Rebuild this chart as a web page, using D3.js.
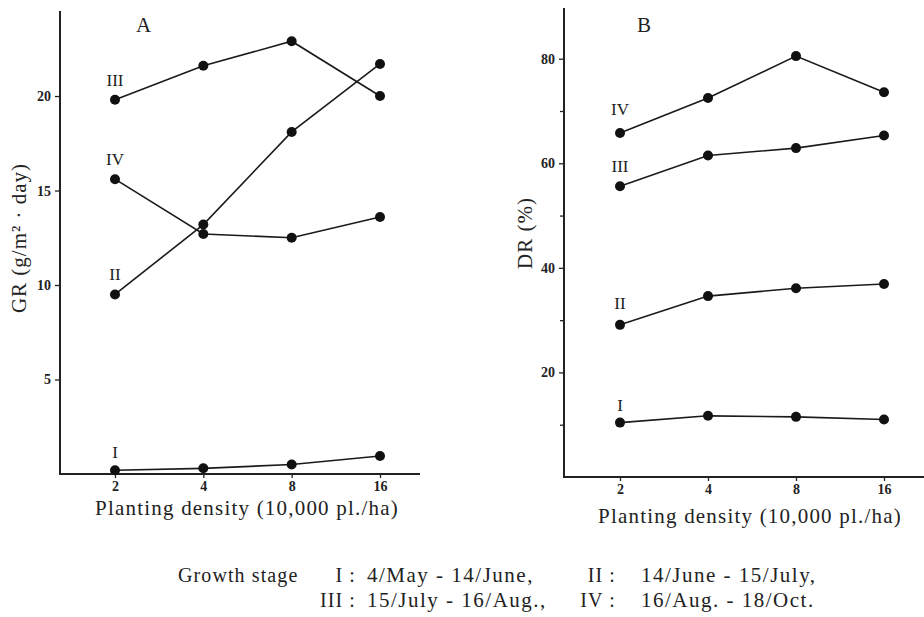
<!DOCTYPE html>
<html>
<head>
<meta charset="utf-8">
<script src="https://cdn.jsdelivr.net/npm/d3@7"></script>
<style>
  body { margin: 0; background: #fff; }
  svg { display: block; font-family: "Liberation Serif", "DejaVu Serif", serif; }
</style>
</head>
<body>
<svg id="chart" width="924" height="617"></svg>
<script>
// planting density (10,000 pl./ha)
var densities = [2, 4, 8, 16];
var stages = ['I', 'II', 'III', 'IV'];

// A: GR (g/m2 . day)
var grI = [0.2, 0.3, 0.5, 0.95];
var grII = [9.5, 13.2, 18.1, 21.7];
var grIII = [19.8, 21.6, 22.9, 20.0];
var grIV = [15.6, 12.7, 12.5, 13.6];
var grTicks = [5, 10, 15, 20];

// B: DR (%)
var drI = [10.4, 11.7, 11.5, 11.0];
var drII = [29.1, 34.6, 36.1, 36.9];
var drIII = [55.6, 61.5, 62.9, 65.3];
var drIV = [65.8, 72.5, 80.5, 73.6];
var drTicks = [20, 40, 60, 80];
var drMinor = [10, 30, 50, 70];

var legendLines = [
    [['I :', '4/May - 14/June,'], ['II :', '14/June - 15/July,']],
    [['III :', '15/July - 16/Aug.,'], ['IV :', '16/Aug. - 18/Oct.']]
];

var svg = d3.select('#chart');

function panel(opt) {
    var g = svg.append('g');
    var x = d3.scaleLog().base(2).domain([2, 16]).range(opt.xRange);
    var y = d3.scaleLinear().domain([0, opt.yMax]).range(opt.yRange);

    // y axis
    g.append('g')
        .attr('transform', 'translate(' + opt.axisX + ',0)')
        .call(d3.axisLeft(y).tickValues(opt.yTicks).tickSize(5).tickPadding(4).tickFormat(d3.format('d')))
        .select('.domain').remove();
    if (opt.yMinor) {
        g.append('g')
            .attr('transform', 'translate(' + opt.axisX + ',0)')
            .call(d3.axisLeft(y).tickValues(opt.yMinor).tickSize(4).tickFormat(''))
            .select('.domain').remove();
    }
    // x axis
    g.append('g')
        .attr('transform', 'translate(0,' + opt.yRange[0] + ')')
        .call(d3.axisBottom(x).tickValues(densities).tickSize(4).tickPadding(3).tickFormat(d3.format('d')))
        .select('.domain').remove();

    g.selectAll('.tick text')
        .style('font-family', '"Liberation Serif", serif')
        .style('font-size', '14px')
        .style('font-weight', 'bold')
        .attr('fill', '#222');
    g.selectAll('.tick line').attr('stroke', '#222').attr('stroke-width', 1.3);

    // axis lines
    g.append('line')
        .attr('x1', opt.axisX).attr('x2', opt.axisX)
        .attr('y1', opt.yRange[1]).attr('y2', opt.yRange[0] + 1)
        .attr('stroke', '#222').attr('stroke-width', 2);
    g.append('line')
        .attr('x1', opt.axisX - 1).attr('x2', opt.axisEnd)
        .attr('y1', opt.yRange[0]).attr('y2', opt.yRange[0])
        .attr('stroke', '#222').attr('stroke-width', 2);

    var line = d3.line()
        .x(function (d, i) { return x(densities[i]); })
        .y(function (d) { return y(d); });

    opt.series.forEach(function (s, k) {
        g.append('path')
            .attr('d', line(s))
            .attr('fill', 'none')
            .attr('stroke', '#1a1a1a')
            .attr('stroke-width', 1.6);
        g.selectAll('.dot' + k).data(s).enter().append('circle')
            .attr('cx', function (d, i) { return x(densities[i]); })
            .attr('cy', function (d) { return y(d); })
            .attr('r', 5)
            .attr('fill', '#111');
        g.append('text')
            .attr('x', x(2))
            .attr('y', y(s[0]) + opt.labelDy[k])
            .attr('text-anchor', 'middle')
            .style('font-size', '17px')
            .attr('fill', '#222')
            .text(stages[k]);
    });

    g.append('text')
        .attr('x', opt.letter[0]).attr('y', opt.letter[1])
        .style('font-size', '21px')
        .attr('fill', '#222')
        .text(opt.name);

    g.append('text')
        .attr('transform', 'translate(' + opt.yTitle[0] + ',' + opt.yTitle[1] + ') rotate(-90)')
        .attr('text-anchor', 'middle')
        .style('font-size', '21px')
        .style('letter-spacing', '1px')
        .attr('fill', '#222')
        .text(opt.yLabel);

    g.append('text')
        .attr('x', opt.xTitle[0]).attr('y', opt.xTitle[1])
        .attr('text-anchor', 'middle')
        .style('font-size', '21px')
        .style('letter-spacing', '1.2px')
        .attr('fill', '#222')
        .text('Planting density  (10,000 pl./ha)');
}

panel({
    name: 'A',
    series: [grI, grII, grIII, grIV],
    yMax: 24.5, yTicks: grTicks,
    xRange: [115, 380], yRange: [474, 11],
    axisX: 60, axisEnd: 420,
    labelDy: [-12, -14, -14, -14],
    letter: [136, 32],
    yTitle: [26, 238],
    yLabel: 'GR  (g/m\u00B2 \u00B7 day)',
    xTitle: [247, 515]
});

panel({
    name: 'B',
    series: [drI, drII, drIII, drIV],
    yMax: 89.7, yTicks: drTicks, yMinor: drMinor,
    xRange: [620, 884], yRange: [477, 8],
    axisX: 564, axisEnd: 924,
    labelDy: [-12, -16, -14, -18],
    letter: [637, 32],
    yTitle: [532, 233],
    yLabel: 'DR  (%)',
    xTitle: [750, 523]
});

// growth stage legend
var leg = svg.append('g')
    .style('font-size', '20px')
    .style('letter-spacing', '1.1px')
    .attr('fill', '#222');
leg.append('text').attr('x', 178).attr('y', 582).text('Growth stage');
var colX = [[356, 367], [616, 641]];
legendLines.forEach(function (row, r) {
    row.forEach(function (cell, c) {
        leg.append('text')
            .attr('x', colX[c][0]).attr('y', 582 + r * 25)
            .attr('text-anchor', 'end')
            .text(cell[0]);
        leg.append('text')
            .attr('x', colX[c][1]).attr('y', 582 + r * 25)
            .style('font-size', '21px')
            .style('letter-spacing', '1.5px')
            .text(cell[1]);
    });
});
</script>
</body>
</html>
